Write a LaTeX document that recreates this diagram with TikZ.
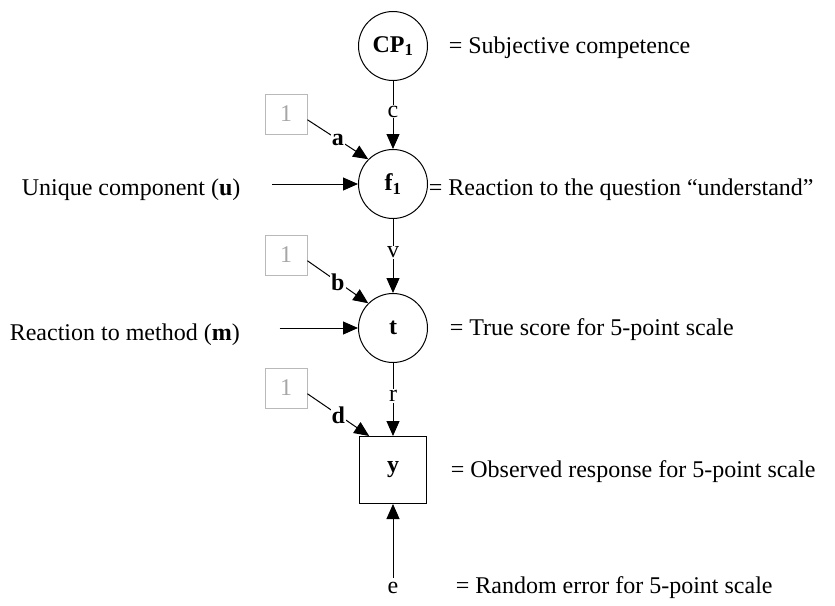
\documentclass[tikz,border=0pt]{standalone}
\usepackage{fontspec}
\setmainfont{Liberation Serif}
\usetikzlibrary{arrows.meta, positioning}

\begin{document}
\begin{tikzpicture}[x=1pt, y=-1pt, >={Triangle[length=15pt, width=13pt]},
    line width=1pt, font=\fontsize{24}{28}\selectfont,
    latent/.style={draw, circle, minimum size=69pt, inner sep=0pt, font=\fontsize{24}{28}\selectfont\bfseries},
    observed/.style={draw, rectangle, minimum size=67pt, inner sep=0pt, font=\fontsize{24}{28}\selectfont\bfseries},
    unit/.style={draw=gray!55, text=gray!70, line width=0.8pt, minimum width=42pt, minimum height=40pt, inner sep=0pt},
    coef/.style={midway, fill=white, inner sep=1pt},
    desc/.style={anchor=base west}]
  \useasboundingbox (0,0) rectangle (835,605);

  % latent and observed variables
  \node[latent] (cp) at (393,46) {CP\textsubscript{1}};
  \node[latent] (f1) at (393,184) {f\textsubscript{1}};
  \node[latent] (t) at (393,328) {t};
  \node[observed] (y) at (393,470) {y};
  \node[anchor=base] (e) at (393,593) {e};

  % unit constants
  \node[unit] (one1) at (286,114) {1};
  \node[unit] (one2) at (286,255) {1};
  \node[unit] (one3) at (286,388) {1};

  % left hand inputs
  \node[desc] (uc) at (18,195) {Unique component (\textbf{u})};
  \node[desc] (rm) at (6,340) {Reaction to method (\textbf{m})};

  % descriptions
  \node[desc] (dcp) at (445,53) {= Subjective competence};
  \node[desc] (df1) at (425,195) {= Reaction to the question ``understand''};
  \node[desc] (dt) at (446,335) {= True score for 5-point scale};
  \node[desc] (dy) at (447,477) {= Observed response for 5-point scale};
  \node[desc] (de) at (452,593) {= Random error for 5-point scale};

  % paths
  \draw[->] (cp) -- (f1) node[coef, pos=0.45] {c};
  \draw[->] (f1) -- (t) node[coef, pos=0.45] {v};
  \draw[->] (t) -- (y) node[coef, pos=0.45] {r};
  \draw[->] (e) -- (y);

  \draw[->] (one1.-15) -- (f1.135) node[coef, font=\fontsize{24}{28}\selectfont\bfseries] {a};
  \draw[->] (one2.-15) -- (t.135) node[coef, font=\fontsize{24}{28}\selectfont\bfseries] {b};
  \draw[->] (one3.-15) -- (y.125) node[coef, font=\fontsize{24}{28}\selectfont\bfseries] {d};

  \draw[->, shorten <=28pt] (uc.east |- f1.west) -- (f1.west);
  \draw[->, shorten <=36pt] (rm.east |- t.west) -- (t.west);
\end{tikzpicture}
\end{document}
